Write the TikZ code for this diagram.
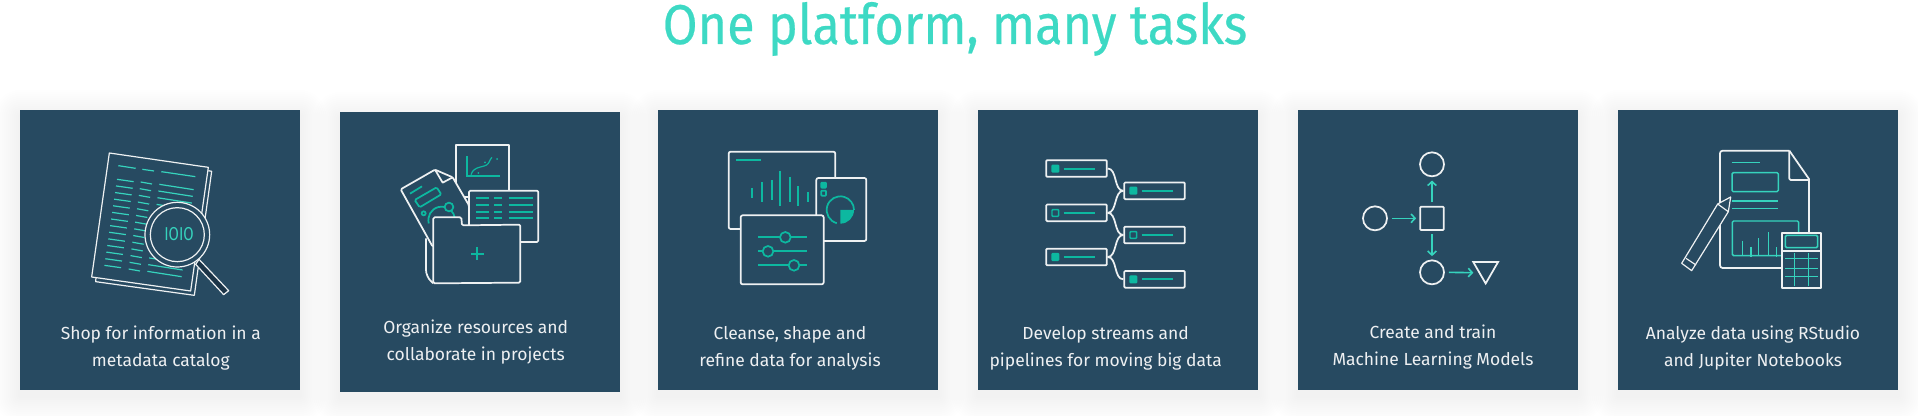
\documentclass[tikz,border=0pt]{standalone}
\usepackage{fontspec}
\setmainfont{Fira Sans}
\newfontfamily\headfont[FakeStretch=0.9, FakeBold=0.4]{Fira Sans}
\newfontfamily\bitsfont[FakeStretch=0.8]{Fira Sans}
\usetikzlibrary{arrows.meta, positioning, shapes.geometric}
\definecolor{cardblue}{HTML}{274A61}
\definecolor{handledark}{HTML}{1B3447}
\definecolor{iconteal}{HTML}{0DB8A0}
\definecolor{iconmint}{HTML}{36D3BD}
\definecolor{titlemint}{HTML}{3DD9C4}

\begin{document}
\begin{tikzpicture}[
  x=0.75pt, y=-0.75pt,
  card/.style={
    fill=cardblue, draw=none, inner sep=0pt,
    minimum width=210pt, minimum height=210pt
  },
  caption/.style={
    align=center, text=white!92!cardblue, inner sep=0pt,
    font=\fontsize{13.1}{20.2}\selectfont
  },
  title/.style={
    text=titlemint, inner sep=0pt, anchor=base,
    font=\headfont\fontsize{42}{44}\selectfont
  },
  icon/.style={x=0.25pt, y=-0.25pt},
  wline/.style={draw=white!92!cardblue, line width=1.3pt, line join=round},
  wfill/.style={wline, fill=cardblue},
  tline/.style={draw=iconteal, line width=1.3pt},
  mline/.style={draw=iconmint, line width=0.9pt},
  rowbox/.style={
    draw=white!92!cardblue, line width=1.3pt, rounded corners=0.8pt,
    minimum width=45.5pt, minimum height=12.5pt, inner sep=0pt
  },
  dotfull/.style={
    draw=iconteal, fill=iconteal, line width=1.1pt, rounded corners=0.6pt,
    minimum size=5pt, inner sep=0pt
  },
  dothollow/.style={dotfull, fill=cardblue},
  flowcircle/.style={
    draw=white!92!cardblue, circle, line width=1.3pt,
    minimum size=18pt, inner sep=0pt
  },
  flowsquare/.style={
    draw=white!92!cardblue, line width=1.3pt, rounded corners=0.6pt,
    minimum size=17.5pt, inner sep=0pt
  },
  flowtri/.style={
    draw=white!92!cardblue, regular polygon, regular polygon sides=3,
    shape border rotate=180, line width=1.3pt,
    minimum size=21.5pt, inner sep=0pt
  },
  link/.style={draw=white!92!cardblue, line width=1.3pt},
  arr/.style={-{Straight Barb[length=3pt, width=6.5pt]}, draw=iconmint, line width=1.2pt}
]
  \useasboundingbox (0,0) rectangle (1918,416);

  % cards with their soft shadows
  \foreach \cx/\cy/\name in {160/250/card1, 480/252/card2, 798/250/card3,
                             1118/250/card4, 1437.5/249.7/card5, 1758/250/card6} {
    \foreach \s in {2,4,...,26} {
      \fill[black, opacity=0.005, rounded corners=\s*0.75pt]
        (\cx-140-\s,\cy-134-\s) rectangle (\cx+140+\s,\cy+146+\s);
    }
    \node[card] (\name) at (\cx,\cy) {};
  }

  \node[title] (head) at (955,44) {One platform, many tasks};

  \node[caption] (txt1) at (160.8,348) {Shop for information in a\\metadata catalog};
  \node[caption] (txt2) at (475.7,341.6) {Organize resources and\\collaborate in projects};
  \node[caption] (txt3) at (790,348) {Cleanse, shape and\\refine data for analysis};
  \node[caption] (txt4) at (1105.7,348) {Develop streams and\\pipelines for moving big data};
  \node[caption] (txt5) at (1433,347) {Create and train\\Machine Learning Models};
  \node[caption] (txt6) at (1753,348) {Analyze data using RStudio\\and Jupiter Notebooks};

  % catalog
  \begin{scope}[shift={(0,100)}, icon]
    \draw[wline, line width=0.9pt] (625,212) -- (635,214) -- (583,586) -- (287,545) -- (288,533);
    \draw[wline, line width=0.9pt] (328,159) -- (625,202) -- (572,573) -- (275,531) -- cycle;
    \draw[mline] (355,197) -- (407,205);
    \draw[mline] (427,208) -- (462,213);
    \draw[mline] (484,215) -- (586,230);
    \foreach \i in {0,...,13} {
      \draw[mline] (351-2.92*\i,238+19.85*\i) -- +(50,7);
      \draw[mline] (422-2.77*\i,246+20.08*\i) -- +(34,6);
      \draw[mline] (478-2.77*\i,253+20.08*\i) -- +(103,16);
    }
    \draw[wline, fill=handledark, line width=0.9pt] (597,478) -- (686,572) -- (671,584) -- (587,493) -- cycle;
    \draw[wfill, line width=0.9pt] (532,404) circle (97);
    \draw[wline, line width=0.9pt] (532,404) circle (81);
    \node[text=iconmint, inner sep=0pt, font=\bitsfont\fontsize{14}{14}\selectfont] (bits) at (537,403) {IOIO};
  \end{scope}

  % projects
  \begin{scope}[shift={(320,100)}, icon]
    \draw[wfill] (407,134) rectangle (568,290);
    \draw[tline] (442,168) -- (442,228) -- (540,228);
    \draw[tline, line width=0.9pt] (453,224) .. controls (462,195) and (495,205) .. (505,190) .. controls (512,180) and (510,176) .. (516,172);
    \fill[iconteal] (495,187) circle (3) (531,177) circle (3) (475,219) circle (3);
    \draw[wfill, rounded corners=1pt] (447,272) rectangle (655,426);
    \foreach \y in {293,315,336,353} {
      \draw[tline] (468,\y) -- (506,\y);
      \draw[tline] (523,\y) -- (546,\y);
      \draw[tline] (566,\y) -- (638,\y);
    }
    \draw[wfill, rounded corners=1pt] (242,268) -- (345,209) -- (398,232) -- (447,316) -- (447,400) -- (338,440) -- cycle;
    \draw[wline] (345,209) -- (368,248) -- (398,232);
    \draw[tline] (270,281) -- (306,259);
    \draw[tline, rounded corners=1pt] (284,300) -- (350,262) -- (364,283) -- (299,322) -- cycle;
    \draw[tline] (365,360) ++(165:40) arc (165:350:40);
    \draw[tline, fill=cardblue] (387,321) circle (13);
    \draw[tline] (311,340) circle (6);
    \draw[wline, rounded corners=5pt] (318,415) -- (318,530) -- (340,550);
    \draw[wfill, rounded corners=1pt] (340,550) -- (340,352) -- (424,352) -- (426,376) -- (601,374) -- (601,548) -- cycle;
    \draw[tline, line width=1.3pt] (453,461) -- (491,461) (472,442) -- (472,480);
  \end{scope}

  % refine
  \begin{scope}[shift={(640,100)}, icon]
    \draw[wline, rounded corners=1.5pt] (266,155) rectangle (586,387);
    \draw[tline] (288,179) -- (364,179);
    \foreach \bx/\bt/\bb in {337/265/293, 366/247/305, 396/241/299, 420/212/317,
                             450/230/305, 473/259/317, 503/277/305} {
      \draw[tline] (\bx,\bt) -- (\bx,\bb);
    }
    \draw[wfill, rounded corners=1.5pt] (529,234) rectangle (679,423);
    \draw[tline, fill=iconteal, rounded corners=0.5pt] (544,248) rectangle (558,263);
    \draw[tline, rounded corners=0.5pt] (544,272) rectangle (558,287);
    \fill[iconteal] (601,330) -- (642,330) arc (0:90:41) -- cycle;
    \draw[tline] (590.4,369.6) arc (105:360:41);
    \draw[wfill, rounded corners=1.5pt] (302,346) rectangle (551,553);
    \foreach \ky/\kx in {412/436, 454/384, 496/462} {
      \draw[tline] (354,\ky) -- (500,\ky);
      \draw[tline, fill=cardblue] (\kx,\ky) circle (16);
    }
  \end{scope}

  % streams
  \begin{scope}[shift={(960,100)}, icon]
    \node[rowbox] (src1) at (349.5,205.5) {};
    \node[rowbox] (src2) at (349.5,338.5) {};
    \node[rowbox] (src3) at (349.5,471) {};
    \node[rowbox] (dst1) at (583.5,272.5) {};
    \node[rowbox] (dst2) at (583.5,405) {};
    \node[rowbox] (dst3) at (583.5,538) {};

    \foreach \name/\look/\px/\py in {src1/dotfull/286/206, src2/dothollow/286/339, src3/dotfull/286/471,
                                     dst1/dotfull/520/272, dst2/dothollow/520/405, dst3/dotfull/520/538} {
      \node[\look] (\name dot) at (\px,\py) {};
      \draw[tline] (\px+25,\py) -- +(95,0);
    }

    \draw[link] (src1.east) to[out=0, in=180, looseness=0.9] (dst1.west);
    \draw[link] (src2.east) to[out=0, in=180, looseness=0.9] (dst1.west);
    \draw[link] (src2.east) to[out=0, in=180, looseness=0.9] (dst2.west);
    \draw[link] (src3.east) to[out=0, in=180, looseness=0.9] (dst2.west);
    \draw[link] (src3.east) to[out=0, in=180, looseness=0.9] (dst3.west);
  \end{scope}

  % models
  \begin{scope}[shift={(1280,100)}, icon]
    \node[flowcircle] (tc) at (456,193) {};
    \node[flowcircle] (lc) at (285,355) {};
    \node[flowsquare] (sq) at (456,355) {};
    \node[flowcircle] (bc) at (456,517) {};
    \node[flowtri] (tri) at (617,507.5) {};
    \coordinate (triin) at (580,518);

    \draw[arr, shorten <=3pt, shorten >=2.5pt] (lc) -- (sq);
    \draw[arr, shorten <=2.5pt, shorten >=2.5pt] (sq) -- (tc);
    \draw[arr, shorten <=2.5pt, shorten >=2.5pt] (sq) -- (bc);
    \draw[arr, shorten <=3pt] (bc.east) -- (triin);
  \end{scope}

  % notebooks
  \begin{scope}[shift={(1600,100)}, icon]
    \draw[wline, rounded corners=2pt] (547,504) -- (360,504) -- (360,152) -- (568,152);
    \draw[wline] (568,152) -- (627,237) -- (627,398);
    \draw[wline, rounded corners=1pt] (568,152) -- (568,240) -- (627,240);
    \draw[mline, line width=1.1pt] (395,188) -- (479,188);
    \draw[mline, line width=1.1pt, rounded corners=1pt] (396,218) rectangle (535,275);
    \draw[mline, line width=1.1pt] (396,303) -- (533,303) (396,325) -- (533,325);
    \draw[mline, line width=1.1pt, rounded corners=1pt] (596,398) -- (596,363) -- (397,363) -- (397,467) -- (547,467);
    \foreach \bx/\bt/\bb in {427/422/467, 453/440/472, 476/415/467, 505/397/467, 530/442/472} {
      \draw[mline] (\bx,\bt) -- (\bx,\bb);
    }
    \draw[wfill] (546,398) rectangle (663,563);
    \draw[mline, line width=1.1pt, rounded corners=1pt] (556,406) rectangle (653,443);
    \draw[wline] (546,452) -- (663,452);
    \draw[mline] (556,476) -- (653,476) (556,505) -- (653,505) (556,530) -- (653,530);
    \draw[mline] (583,460) -- (583,558) (625,460) -- (625,558);
    \draw[wfill, line width=0.9pt] (353,312) -- (392,291) -- (385,335) -- (275,512) -- (245,490) -- cycle;
    \draw[wline, line width=0.9pt] (353,312) -- (385,335);
    \draw[wline, line width=0.9pt] (258,475) -- (288,495);
  \end{scope}

\end{tikzpicture}
\end{document}
